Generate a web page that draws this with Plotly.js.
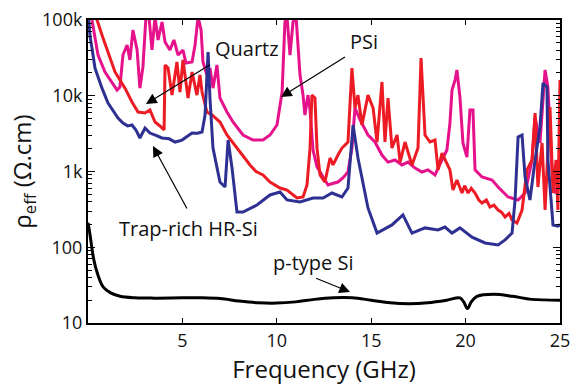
<!DOCTYPE html>
<html><head><meta charset="utf-8">
<script src="https://cdn.plot.ly/plotly-3.0.1.min.js"></script>
<style>html,body{margin:0;padding:0;background:#fff}#plot{width:571px;height:388px}</style>
</head><body><div id="plot"></div>
<script>
// Frequency (GHz) and effective resistivity (Ohm.cm)
const psiFreq = [0.21,0.53,0.90,1.27,1.54,1.69,1.85,2.07,2.22,2.38,2.60,2.75,2.91,3.07,3.23,3.39,3.55,3.71,3.92,4.08,4.34,4.55,4.77,5.03,5.19,5.51,5.67,5.83,5.99,6.09,6.30,6.46,6.62,6.83,6.99,7.36,7.68,8.21,8.74,9.27,9.64,10.01,10.17,10.28,10.43,10.54,10.70,10.86,11.02,11.23,11.39,11.49,11.65,11.76,11.92,12.13,12.39,12.71,13.0,13.24,13.5,13.77,13.98,14.14,14.41,14.83,15.20,15.57,15.89,16.26,16.63,16.95,17.32,17.69,18.01,18.38,18.75,19.01,19.17,19.28,19.44,19.54,19.70,19.86,20.07,20.23,20.39,20.50,20.87,21.40,21.72,22.25,22.78,23.15,23.52,23.68,23.94,24.21,24.36,24.58,24.73,24.89,25.0];
const psiRho  = [100000,34500,20600,15200,11900,13000,34500,46800,29700,73800,40200,12600,24000,110000,110000,40200,110000,54500,94100,51300,40200,54500,34500,40200,27000,27900,46800,110000,73800,27900,18800,23200,12600,25500,9330,6100,4500,3030,2600,2600,3030,4110,6890,11200,94100,110000,34500,94100,110000,18800,10200,5570,10200,6490,1920,1150,900,664,700,726,820,984,2040,6890,4790,3030,2450,1650,1330,1420,1220,1330,1110,984,1050,900,1420,1920,4360,11900,16100,21900,9620,2380,1550,6490,6490,1050,845,773,624,461,421,520,1420,5250,2380,21900,13000,1050,520,570,660];

const quartzFreq = [0.30,0.48,0.74,1.06,1.43,1.96,2.33,2.65,3.02,3.28,3.39,3.55,3.81,4.03,4.08,4.24,4.45,4.71,4.87,5.03,5.30,5.51,5.77,5.93,6.04,6.30,6.57,6.99,7.36,7.89,8.2,8.58,8.9,9.27,9.64,10.17,10.54,11.07,11.39,11.60,11.76,11.86,12.02,12.13,12.29,12.55,12.82,12.98,13.24,13.45,13.77,13.98,14.14,14.30,14.51,14.83,15.10,15.31,15.57,15.73,15.89,16.10,16.37,16.53,16.79,17.16,17.48,17.64,17.85,18.11,18.38,18.54,18.75,19.01,19.17,19.33,19.54,19.81,19.95,20.13,20.3,20.50,20.7,20.87,21.1,21.29,21.5,21.72,21.9,22.09,22.3,22.46,22.72,22.99,23.25,23.52,23.68,23.83,24.05,24.21,24.47,24.63,24.79,24.89,25.0];
const quartzRho  = [130000,100000,63400,37800,20600,12600,8260,6100,5920,6490,5570,4500,3990,3530,25500,23200,10200,27900,11200,29700,9330,20600,10200,18800,11200,6100,5570,4500,3030,2040,1600,1220,1000,900,726,605,570,447,461,664,2040,10200,9330,2040,900,726,1510,1220,1650,2040,2450,23200,6890,10200,4110,10200,6890,2450,15200,2450,9330,2040,3030,1330,2450,1220,2040,31500,3030,2450,2600,1050,1750,1290,1050,570,773,520,650,520,600,520,420,384,420,340,360,310,290,251,280,229,209,310,1050,1420,5920,624,2380,310,7110,520,1420,310,16100];

const trapFreq = [0.02,0.11,0.21,0.37,0.74,1.06,1.59,1.85,2.10,2.33,2.55,2.75,3.02,3.28,3.60,3.92,4.30,4.61,4.98,5.30,5.51,5.80,6.04,6.20,6.30,6.36,6.46,6.62,6.99,7.26,7.42,7.63,7.89,8.21,8.95,9.64,10.17,10.54,11.23,11.92,12.45,12.92,13.45,13.77,14.04,14.30,14.83,15.31,16.10,16.68,17.16,17.85,18.54,18.91,19.28,19.70,20.34,21.03,21.72,22.09,22.46,22.62,22.78,22.99,23.15,23.41,23.68,23.94,24.10,24.31,24.36,24.63,24.89,25.0];
const trapRho  = [120000,60000,42600,23200,12600,8000,5080,4360,4000,4110,3500,2770,3750,3220,3000,2770,2700,2450,2600,3000,3220,3200,3320,5570,15200,37800,9330,2040,726,624,2600,1110,292,292,361,490,536,421,396,447,447,520,461,605,4110,1510,330,154,197,267,154,180,169,185,154,180,136,114,107,125,154,421,2850,3030,845,421,1420,3870,14700,13000,1420,197,190,200];

const ptypeFreq = [0,0.1,0.3,0.5,0.8,1.2,1.7,2.5,3.5,5,6,7,8,9,10,11,12,13,14,15,16,17,18,19,19.7,19.9,20.1,20.3,20.6,21.5,22.5,23.5,25];
const ptypeRho  = [210,150,70,45,30,25,22.5,21.5,21.3,21.5,21.5,21,19.5,18.5,18.3,19,20.5,21.5,21.5,20,18.5,18,18.5,20,21.5,19,15.5,19,22.5,24,22.5,20.5,20];

const yTickVals = [10,100,1000,10000,100000];
const yTickText = ['10','100','1k','10k','100k'];
const xTickVals = [5,10,15,20,25];

const labels = [
  {text:'Quartz', x:8.42, y:4.63},
  {text:'PSi', x:14.62, y:4.71},
  {text:'Trap-rich HR-Si', x:5.30, y:2.254},
  {text:'p-type Si', x:11.92, y:1.805}
];
const arrows = [
  {x:3.07, y:3.891, ax:67, ay:-41},
  {x:10.22, y:3.983, ax:67, ay:-42},
  {x:3.44, y:3.337, ax:37, ay:68},
  {x:13.88, y:1.409, ax:-37, ay:-15}
];

const minorVals = [];
for (let d = 10; d < 100000; d *= 10) for (let k = 2; k <= 9; k++) minorVals.push(k*d);

const FONT = 'Open Sans, Noto Sans, sans-serif';
const traces = [
  {x:psiFreq, y:psiRho, mode:'lines', line:{color:'#E6128C', width:3}},
  {x:quartzFreq, y:quartzRho, mode:'lines', line:{color:'#ED1C24', width:3}},
  {x:trapFreq, y:trapRho, mode:'lines', line:{color:'#2E3192', width:3}},
  {x:ptypeFreq, y:ptypeRho, mode:'lines', line:{color:'#000000', width:3, shape:'spline'}}
];

const annotations = labels.map(l => ({x:l.x, y:l.y, xref:'x', yref:'y', text:l.text, showarrow:false, font:{family:FONT, size:20, color:'#111'}}))
  .concat(arrows.map(a => ({x:a.x, y:a.y, xref:'x', yref:'y', ax:a.ax, ay:a.ay, text:' ', showarrow:true, arrowhead:2, arrowsize:1.8, arrowwidth:1.2, arrowcolor:'#000'})));

const layout = {
  width:571, height:388,
  margin:{l:88, r:11, t:20, b:65},
  paper_bgcolor:'#fff', plot_bgcolor:'#fff',
  showlegend:false,
  font:{family:FONT, color:'#111'},
  xaxis:{range:[0,25], tickvals:xTickVals, ticks:'inside', ticklen:5, tickwidth:1, tickcolor:'#000',
    showline:true, linecolor:'#000', linewidth:2, mirror:'ticks', showgrid:false, zeroline:false,
    tickfont:{size:18, family:FONT}, title:{text:'Frequency (GHz)', font:{size:24, family:FONT}, standoff:4}},
  yaxis:{type:'log', range:[1,5], tickvals:yTickVals, ticktext:yTickText, ticks:'inside', ticklen:7, tickwidth:1, tickcolor:'#000',
    showline:true, linecolor:'#000', linewidth:2, mirror:'ticks', showgrid:false, zeroline:false,
    minor:{tickvals:minorVals, ticks:'inside', ticklen:4, tickwidth:1, tickcolor:'#000', showgrid:false},
    tickfont:{size:18, family:FONT}, title:{text:'ρ<sub>eff</sub> (Ω.cm)', font:{size:24, family:FONT}, standoff:4}},
  annotations: annotations
};

Plotly.newPlot('plot', traces, layout, {staticPlot:true, displayModeBar:false});
</script></body></html>
